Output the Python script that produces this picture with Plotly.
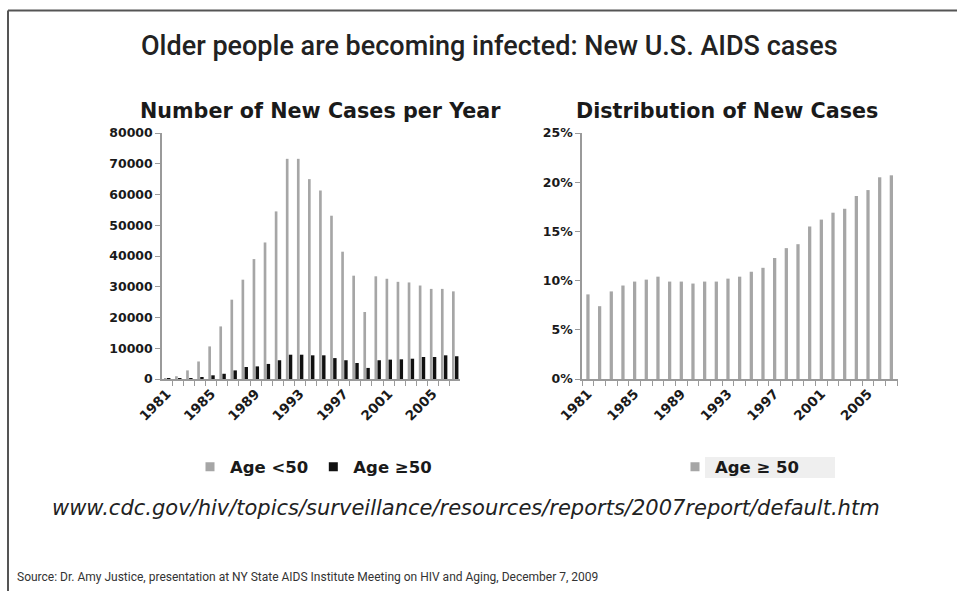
import plotly.graph_objects as go

# New U.S. AIDS cases by year and age group
years = list(range(1981, 2008))
cases_under50 = [200, 900, 2800, 5700, 10600, 17100, 25800, 32300, 39000, 44400,
                 54500, 71600, 71600, 65000, 61300, 53100, 41400, 33600, 21800,
                 33400, 32600, 31600, 31400, 30400, 29300, 29300, 28500]
cases_50plus = [20, 70, 270, 540, 1200, 1700, 2800, 3900, 4100, 4900,
                6100, 7900, 7900, 7700, 7700, 6800, 6100, 5200, 3600,
                6100, 6300, 6400, 6600, 7150, 7150, 7700, 7400]
# Share of new cases among people aged 50 and over (%)
share_50plus = [8.6, 7.4, 8.9, 9.5, 9.9, 10.1, 10.4, 9.9, 9.9, 9.7, 9.9, 9.9,
                10.2, 10.4, 10.9, 11.3, 12.3, 13.3, 13.7, 15.5, 16.2, 16.9,
                17.3, 18.6, 19.2, 20.5, 20.7]
label_years = [1981, 1985, 1989, 1993, 1997, 2001, 2005]
label_text = [str(y) for y in label_years]

W, H = 957, 591
GRAY = "#a6a6a6"
BLACK = "#111111"
AXIS = "#9a9a9a"
TXT = "#1a1a1a"
BOLD = "DejaVu Sans"


def px_x(p):
    return p / W


def px_y(p):
    return 1 - p / H


fig = go.Figure()

# left panel: counts
fig.add_trace(go.Bar(x=years, y=cases_under50, xaxis="x", yaxis="y",
                     marker=dict(color=GRAY, line=dict(width=0)),
                     offset=-0.27, width=0.24, showlegend=False))
fig.add_trace(go.Bar(x=years, y=cases_50plus, xaxis="x", yaxis="y",
                     marker=dict(color=BLACK, line=dict(width=0)),
                     offset=0.0, width=0.31, showlegend=False))
# right panel: percentage
fig.add_trace(go.Bar(x=years, y=share_50plus, xaxis="x2", yaxis="y2",
                     marker=dict(color=GRAY, line=dict(width=0)),
                     width=0.28, showlegend=False))

# legend entries
fig.add_trace(go.Scatter(x=[None], y=[None], mode="markers", name="Age <50",
                         marker=dict(symbol="square", size=9, color=GRAY),
                         xaxis="x", yaxis="y", legend="legend"))
fig.add_trace(go.Scatter(x=[None], y=[None], mode="markers", name="Age \u226550",
                         marker=dict(symbol="square", size=9, color=BLACK),
                         xaxis="x", yaxis="y", legend="legend"))
fig.add_trace(go.Scatter(x=[None], y=[None], mode="markers", name="Age \u2265 50",
                         marker=dict(symbol="square", size=9, color=GRAY),
                         xaxis="x2", yaxis="y2", legend="legend2"))

ytickfont = dict(family=BOLD, size=12.5, color=TXT, weight="bold")
xtickfont = dict(family=BOLD, size=13.5, color=TXT, weight="bold")
minor_vals = [y - 0.5 for y in years] + [years[-1] + 0.5]

xcommon = dict(tickmode="array", tickvals=label_years, ticktext=label_text,
               tickangle=-45, ticks="", showline=True, linecolor=AXIS,
               linewidth=1.5, showgrid=False, zeroline=False, tickfont=xtickfont,
               minor=dict(tickvals=minor_vals, ticks="outside", ticklen=5,
                          tickcolor=AXIS, tickwidth=1.2, showgrid=False),
               fixedrange=True, automargin=False)
ycommon = dict(showline=True, linecolor=AXIS, linewidth=1.5, ticks="outside",
               ticklen=5, tickcolor=AXIS, tickwidth=1.2, showgrid=False,
               zeroline=False, tickfont=ytickfont, fixedrange=True,
               automargin=False)

ydom = [px_y(379), px_y(133)]
legfont = dict(family=BOLD, size=16.5, color=TXT, weight="bold")

fig.update_layout(
    width=W, height=H, autosize=False,
    margin=dict(l=0, r=0, t=0, b=0),
    paper_bgcolor="white", plot_bgcolor="white",
    barmode="overlay",
    xaxis=dict(domain=[px_x(162), px_x(460)], range=[1980.55, 2007.45],
               anchor="y", **xcommon),
    yaxis=dict(domain=ydom, range=[0, 80000], dtick=10000, tickformat="d",
               anchor="x", **ycommon),
    xaxis2=dict(domain=[px_x(582), px_x(898)], range=[1980.49, 2007.57],
                anchor="y2", **xcommon),
    yaxis2=dict(domain=ydom, range=[0, 25], dtick=5, ticksuffix="%",
                anchor="x2", **ycommon),
    legend=dict(orientation="h", x=px_x(190), y=px_y(467), xanchor="left",
                yanchor="middle", bgcolor="rgba(0,0,0,0)", font=legfont,
                itemwidth=30, tracegroupgap=0),
    legend2=dict(orientation="h", x=px_x(675), y=px_y(467), xanchor="left",
                 yanchor="middle", bgcolor="rgba(0,0,0,0)", font=legfont,
                 itemwidth=30),
    showlegend=True,
)

# shaded box behind the right legend label
fig.add_shape(type="rect", xref="paper", yref="paper",
              x0=px_x(705), x1=px_x(835), y0=px_y(478), y1=px_y(457),
              fillcolor="#efefef", line=dict(width=0), layer="below")

# frame along the top and left edges
fig.add_shape(type="line", xref="paper", yref="paper",
              x0=px_x(8), x1=1.0, y0=px_y(10.5), y1=px_y(10.5),
              line=dict(color="#555555", width=2))
fig.add_shape(type="line", xref="paper", yref="paper",
              x0=px_x(8), x1=px_x(8), y0=px_y(10.5), y1=0,
              line=dict(color="#555555", width=2))

annotations = [
    dict(text="Older people are becoming infected: New U.S. AIDS cases",
         x=px_x(490), y=px_y(46), font=dict(family="Roboto", size=27,
                                            color="#222222", weight=500)),
    dict(text="<b>Number of New Cases per Year</b>", x=px_x(320), y=px_y(111),
         font=dict(family=BOLD, size=20.7, color=TXT)),
    dict(text="<b>Distribution of New Cases</b>", x=px_x(727), y=px_y(111),
         font=dict(family=BOLD, size=20.7, color=TXT)),
    dict(text="<i>www.cdc.gov/hiv/topics/surveillance/resources/reports/2007report/default.htm</i>",
         x=px_x(466), y=px_y(508),
         font=dict(family="DejaVu Sans", size=21, color="#222222")),
    dict(text="Source: Dr. Amy Justice, presentation at NY State AIDS Institute Meeting on HIV and Aging, December 7, 2009",
         x=px_x(15), y=px_y(577), xanchor="left",
         font=dict(family="Roboto", size=12, color="#333333")),
]
for a in annotations:
    a.setdefault("xanchor", "center")
    a.update(xref="paper", yref="paper", yanchor="middle", showarrow=False)
    fig.add_annotation(**a)

fig.write_html("out.html")
